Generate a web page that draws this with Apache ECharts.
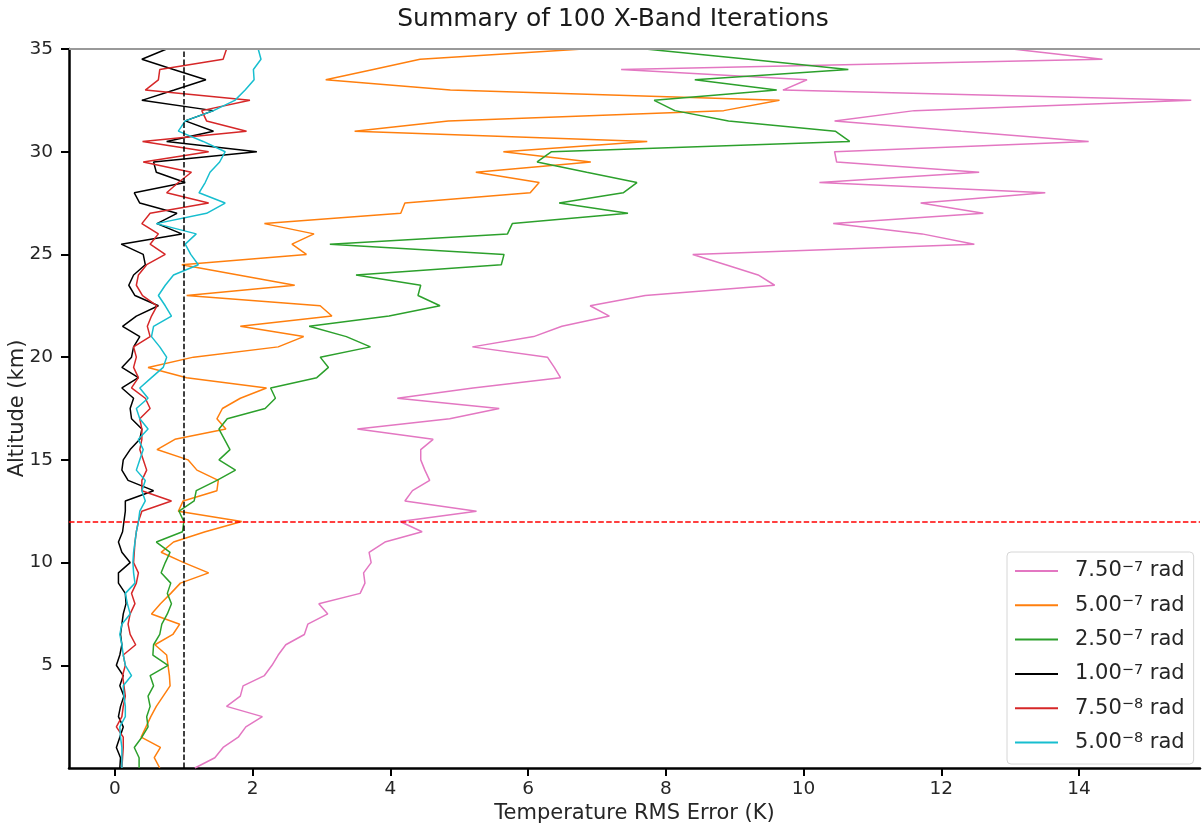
<!DOCTYPE html>
<html>
<head>
<meta charset="utf-8">
<title>Summary of 100 X-Band Iterations</title>
<script src="https://cdn.jsdelivr.net/npm/echarts@6/dist/echarts.min.js"></script>
<style>
  html, body { margin: 0; padding: 0; background: #ffffff; }
  #chart { width: 1202px; height: 829px; }
</style>
</head>
<body>
<div id="chart"></div>
<script>
// Retrieval altitude levels (km), top of profile first
const ALTITUDE_KM = [
  35, 34.5, 34, 33.5, 33, 32.5, 32, 31.5, 31, 30.5,
  30, 29.5, 29, 28.5, 28, 27.5, 27, 26.5, 26, 25.5,
  25, 24.5, 24, 23.5, 23, 22.5, 22, 21.5, 21, 20.5,
  20, 19.5, 19, 18.5, 18, 17.5, 17, 16.5, 16, 15.5,
  15, 14.5, 14, 13.5, 13, 12.5, 12, 11.5, 11, 10.5,
  10, 9.5, 9, 8.5, 8, 7.5, 7, 6.5, 6, 5.5,
  5, 4.5, 4, 3.5, 3, 2.5, 2, 1.5, 1, 0.5,
  0
];

// Temperature RMS error (K) per altitude level, one array per noise level
const RMS_7_50E7 = [
  13.03, 14.34, 7.35, 10.05, 9.70, 15.63, 11.61, 10.45, 12.29, 14.14,
  10.45, 10.48, 12.55, 10.23, 13.51, 11.70, 12.61, 10.43, 11.72, 12.48,
  8.39, 8.87, 9.34, 9.58, 7.70, 6.90, 7.18, 6.49, 6.08, 5.19,
  6.28, 6.38, 6.47, 5.20, 4.10, 5.58, 4.86, 3.52, 4.62, 4.44,
  4.44, 4.50, 4.57, 4.32, 4.21, 5.25, 4.14, 4.46, 3.92, 3.69,
  3.72, 3.61, 3.63, 3.56, 2.96, 3.09, 2.80, 2.75, 2.48, 2.37,
  2.28, 2.17, 1.86, 1.82, 1.62, 2.14, 1.90, 1.79, 1.57, 1.45,
  1.16
];
const RMS_5_00E7 = [
  6.80, 4.43, 3.75, 3.06, 4.87, 9.65, 8.84, 4.84, 3.48, 7.73,
  5.64, 6.91, 5.24, 6.16, 6.03, 4.21, 4.15, 2.17, 2.89, 2.57,
  2.78, 0.97, 1.79, 2.61, 1.04, 2.98, 3.15, 1.82, 2.74, 2.37,
  1.14, 0.48, 1.04, 2.20, 1.82, 1.56, 1.48, 1.61, 0.87, 0.61,
  1.06, 1.19, 1.50, 1.48, 0.99, 0.92, 1.84, 1.31, 0.85, 0.67,
  1.00, 1.36, 0.95, 0.81, 0.66, 0.53, 0.94, 0.84, 0.58, 0.75,
  0.77, 0.79, 0.80, 0.70, 0.60, 0.52, 0.45, 0.38, 0.66, 0.57,
  0.65
];
const RMS_2_50E7 = [
  7.70, 9.20, 10.65, 8.42, 9.61, 7.83, 8.13, 8.91, 10.46, 10.67,
  6.34, 6.13, 6.85, 7.58, 7.38, 6.45, 7.45, 5.77, 5.70, 3.12,
  5.65, 5.61, 3.50, 4.44, 4.40, 4.72, 3.98, 2.82, 3.36, 3.71,
  2.98, 3.10, 2.93, 2.26, 2.33, 2.18, 1.63, 1.51, 1.59, 1.67,
  1.51, 1.75, 1.48, 1.18, 1.15, 0.93, 1.00, 0.98, 0.60, 0.80,
  0.73, 0.67, 0.81, 0.76, 0.82, 0.76, 0.68, 0.65, 0.56, 0.55,
  0.77, 0.51, 0.56, 0.48, 0.51, 0.46, 0.48, 0.39, 0.28, 0.35,
  0.35
];
const RMS_1_00E7 = [
  0.75, 0.39, 0.85, 1.32, 0.86, 0.39, 1.43, 1.02, 1.43, 0.75,
  2.06, 0.56, 0.60, 1.02, 0.28, 0.36, 0.90, 0.61, 0.97, 0.09,
  0.41, 0.44, 0.27, 0.20, 0.29, 0.63, 0.31, 0.11, 0.36, 0.27,
  0.24, 0.10, 0.34, 0.10, 0.27, 0.22, 0.24, 0.39, 0.36, 0.22,
  0.12, 0.10, 0.19, 0.56, 0.15, 0.15, 0.13, 0.11, 0.05, 0.10,
  0.22, 0.05, 0.05, 0.15, 0.16, 0.12, 0.10, 0.08, 0.10, 0.07,
  0.02, 0.12, 0.07, 0.13, 0.08, 0.05, 0.12, 0.07, 0.02, 0.08,
  0.07
];
const RMS_7_50E8 = [
  1.62, 1.57, 0.65, 0.63, 0.44, 1.96, 1.26, 1.33, 1.91, 0.40,
  1.36, 0.41, 1.11, 0.92, 0.75, 1.36, 0.51, 0.39, 0.63, 0.51,
  0.73, 0.46, 0.34, 0.31, 0.40, 0.61, 0.53, 0.47, 0.51, 0.27,
  0.31, 0.27, 0.34, 0.24, 0.44, 0.51, 0.36, 0.39, 0.39, 0.36,
  0.41, 0.46, 0.39, 0.39, 0.82, 0.39, 0.34, 0.31, 0.29, 0.28,
  0.27, 0.34, 0.31, 0.24, 0.29, 0.22, 0.19, 0.22, 0.30, 0.12,
  0.15, 0.11, 0.13, 0.15, 0.12, 0.10, 0.02, 0.12, 0.12, 0.11,
  0.10
];
const RMS_5_00E8 = [
  2.08, 2.12, 2.01, 2.02, 1.89, 1.74, 1.43, 1.02, 0.92, 1.28,
  1.60, 1.52, 1.38, 1.31, 1.22, 1.60, 1.33, 0.60, 1.18, 1.02,
  1.10, 1.21, 0.85, 0.73, 0.63, 0.73, 0.82, 0.56, 0.53, 0.65,
  0.75, 0.70, 0.53, 0.36, 0.48, 0.31, 0.36, 0.48, 0.34, 0.41,
  0.36, 0.31, 0.44, 0.39, 0.44, 0.36, 0.34, 0.31, 0.29, 0.27,
  0.26, 0.27, 0.29, 0.15, 0.18, 0.22, 0.10, 0.07, 0.10, 0.12,
  0.15, 0.24, 0.12, 0.13, 0.15, 0.15, 0.07, 0.08, 0.10, 0.10,
  0.10
];

// Noise levels: mantissa and exponent shown in the legend
const NOISE_MANTISSA = ['7.50', '5.00', '2.50', '1.00', '7.50', '5.00'];
const NOISE_EXPONENT = ['\u22127', '\u22127', '\u22127', '\u22127', '\u22128', '\u22128'];
const SERIES_COLORS = ['#e377c2', '#ff7f0e', '#2ca02c', '#000000', '#d62728', '#17becf'];
const SERIES_VALUES = [RMS_7_50E7, RMS_5_00E7, RMS_2_50E7, RMS_1_00E7, RMS_7_50E8, RMS_5_00E8];

const X_TICKS = [0, 2, 4, 6, 8, 10, 12, 14];
const Y_TICKS = [5, 10, 15, 20, 25, 30, 35];
const ERROR_THRESHOLD_K = 1;
const REFERENCE_ALTITUDE_KM = 12;
const PROFILE_TOP_KM = 35;

const FONT = 'DejaVu Sans';
const TEXT_COLOR = '#262626';

const chart = echarts.init(document.getElementById('chart'), null, { renderer: 'canvas' });

const seriesNames = NOISE_MANTISSA.map((m, i) => m + 'e' + NOISE_EXPONENT[i] + ' rad');
const legendText = {};
seriesNames.forEach((n, i) => {
  legendText[n] = '{gap|}{n|' + NOISE_MANTISSA[i] + '}{s|' + NOISE_EXPONENT[i] + '}{n| rad}';
});

const profileSeries = SERIES_VALUES.map((vals, i) => ({
  name: seriesNames[i],
  type: 'line',
  data: ALTITUDE_KM.map((h, k) => [vals[k], h]),
  showSymbol: false,
  symbol: 'none',
  clip: true,
  animation: false,
  lineStyle: { color: SERIES_COLORS[i], width: 1.5 },
  itemStyle: { color: SERIES_COLORS[i] },
  emphasis: { disabled: true }
}));

// Reference lines: threshold error, reference altitude, profile top
profileSeries.push({
  name: 'refs',
  type: 'line',
  data: [],
  silent: true,
  animation: false,
  markLine: {
    silent: true,
    symbol: ['none', 'none'],
    label: { show: false },
    animation: false,
    data: [
      { xAxis: ERROR_THRESHOLD_K, lineStyle: { color: '#000000', width: 1.5, type: [5.5, 2.4] } },
      { yAxis: REFERENCE_ALTITUDE_KM, lineStyle: { color: '#ff0000', width: 1.5, type: [5.5, 2.4] } },
      { yAxis: PROFILE_TOP_KM, lineStyle: { color: '#999999', width: 2, type: 'solid' } }
    ]
  }
});

const option = {
  backgroundColor: '#ffffff',
  animation: false,
  title: {
    text: 'Summary of 100 X-Band Iterations',
    left: 608,
    textAlign: 'center',
    top: 2,
    textStyle: { fontFamily: FONT, fontSize: 25, fontWeight: 'normal', color: '#1a1a1a' }
  },
  grid: { left: 69, right: 2, top: 49, bottom: 61, containLabel: false, outerBoundsMode: 'none' },
  legend: {
    data: seriesNames,
    orient: 'vertical',
    left: 1007,
    top: 552,
    padding: [7.5, 9, 9, 8],
    itemWidth: 43,
    itemHeight: 2,
    itemGap: 10.3,
    icon: 'rect',
    borderColor: '#d6d6d6',
    borderWidth: 1,
    borderRadius: 4,
    backgroundColor: '#ffffff',
    selectedMode: false,
    formatter: name => legendText[name],
    textStyle: {
      fontFamily: FONT,
      color: TEXT_COLOR,
      rich: {
        gap: { width: 12 },
        n: { fontFamily: FONT, fontSize: 21, lineHeight: 23, color: TEXT_COLOR },
        s: { fontFamily: FONT, fontSize: 14.5, lineHeight: 14, color: TEXT_COLOR, verticalAlign: 'top', padding: [0, 0, 9, 0] }
      }
    }
  },
  xAxis: {
    type: 'value',
    min: -0.668,
    max: 15.757,
    name: 'Temperature RMS Error (K)',
    nameLocation: 'middle',
    nameGap: 35,
    nameMoveOverlap: false,
    nameTextStyle: { fontFamily: FONT, fontSize: 21, color: TEXT_COLOR },
    axisLine: { show: true, onZero: false, lineStyle: { color: '#000000', width: 2.5 } },
    axisTick: { show: true, customValues: X_TICKS, length: 8, lineStyle: { color: '#000000', width: 2 } },
    axisLabel: { customValues: X_TICKS, fontFamily: FONT, fontSize: 18.5, color: TEXT_COLOR, margin: 12 },
    splitLine: { show: false }
  },
  yAxis: {
    type: 'value',
    min: 0,
    max: 35,
    name: 'Altitude (km)',
    nameLocation: 'middle',
    nameGap: 41,
    nameRotate: 90,
    nameMoveOverlap: false,
    nameTextStyle: { fontFamily: FONT, fontSize: 21, color: TEXT_COLOR },
    axisLine: { show: true, onZero: false, lineStyle: { color: '#000000', width: 2.5 } },
    axisTick: { show: true, customValues: Y_TICKS, length: 8, lineStyle: { color: '#000000', width: 2 } },
    axisLabel: { customValues: Y_TICKS, fontFamily: FONT, fontSize: 18.5, color: TEXT_COLOR, margin: 16 },
    splitLine: { show: false }
  },
  series: profileSeries
};

chart.setOption(option);
</script>
</body>
</html>
